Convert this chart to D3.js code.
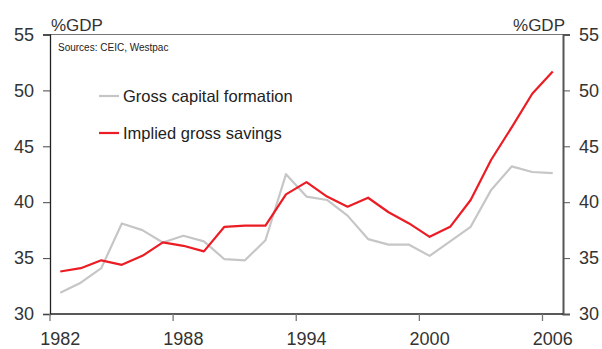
<!DOCTYPE html>
<html>
<head>
<meta charset="utf-8">
<script src="https://cdn.jsdelivr.net/npm/d3@7"></script>
<style>
  body { margin: 0; background: #fff; }
  svg { display: block; font-family: "Liberation Sans", Arial, sans-serif; }
</style>
</head>
<body>
<svg id="chart" width="602" height="349"></svg>
<script>
// Investment and savings, % of GDP
const years = d3.range(1982, 2007);
const grossCapitalFormation = [
  31.9, 32.8, 34.1, 38.1, 37.5, 36.4, 37.0, 36.5, 34.9, 34.8,
  36.6, 42.5, 40.5, 40.2, 38.8, 36.7, 36.2, 36.2, 35.2, 36.5,
  37.8, 41.1, 43.2, 42.7, 42.6
];
const impliedGrossSavings = [
  33.8, 34.1, 34.8, 34.4, 35.2, 36.4, 36.1, 35.6, 37.8, 37.9,
  37.9, 40.7, 41.8, 40.5, 39.6, 40.4, 39.1, 38.1, 36.9, 37.8,
  40.2, 43.8, 46.7, 49.7, 51.7
];
const yTicks = [30, 35, 40, 45, 50, 55];
const xTickYears = [1982, 1988, 1994, 2000, 2006];

const svg = d3.select("#chart");
const plotLeft = 50, plotRight = 563, plotTop = 34.5, plotBottom = 314;

const x = d3.scaleBand().domain(years).range([plotLeft, plotRight]).padding(0);
const xc = d => x(d) + x.bandwidth() / 2;
const y = d3.scaleLinear().domain([30, 55]).range([plotBottom, plotTop]);

// frame top
svg.append("line").attr("x1", plotLeft).attr("x2", plotRight).attr("y1", plotTop).attr("y2", plotTop)
  .attr("stroke", "#777").attr("stroke-width", 1);

// left axis
const yl = svg.append("g").attr("transform", `translate(${plotLeft},0)`)
  .call(d3.axisLeft(y).tickValues(yTicks).tickSize(7).tickPadding(9));
yl.select(".domain").attr("stroke", "#222").attr("stroke-width", 1.3);
yl.selectAll(".tick line").attr("stroke", "#444");
yl.selectAll(".tick text").attr("font-size", 18).attr("fill", "#333")
  .attr("font-family", "Liberation Sans, Arial, sans-serif");

// right axis
const yr = svg.append("g").attr("transform", `translate(${plotRight},0)`)
  .call(d3.axisRight(y).tickValues(yTicks).tickSize(7).tickPadding(9));
yr.select(".domain").attr("stroke", "#555").attr("stroke-width", 2);
yr.selectAll(".tick line").attr("stroke", "#555");
yr.selectAll(".tick text").attr("font-size", 18).attr("fill", "#333")
  .attr("font-family", "Liberation Sans, Arial, sans-serif");

// bottom axis: ticks on band edges, labels on band centres
const xb = svg.append("g").attr("transform", `translate(0,${plotBottom})`);
xb.append("line").attr("x1", plotLeft).attr("x2", plotRight).attr("stroke", "#222").attr("stroke-width", 1.3);
xb.selectAll("line.tk").data(xTickYears).join("line").attr("class", "tk")
  .attr("x1", d => x(d)).attr("x2", d => x(d)).attr("y1", 0).attr("y2", 7)
  .attr("stroke", "#777").attr("stroke-width", 1.3);
xb.selectAll("text").data(xTickYears).join("text")
  .attr("x", d => xc(d)).attr("y", 31).attr("text-anchor", "middle")
  .attr("font-size", 18).attr("fill", "#333").text(d => d);

// unit labels and source
svg.append("text").attr("x", plotLeft + 1).attr("y", 31).attr("font-size", 17).attr("fill", "#333").text("%GDP");
svg.append("text").attr("x", plotRight + 2).attr("y", 31).attr("text-anchor", "end").attr("font-size", 17).attr("fill", "#333").text("%GDP");
svg.append("text").attr("x", 58).attr("y", 51).attr("font-size", 10).attr("fill", "#222").text("Sources: CEIC, Westpac");

// lines
const line = d3.line().x((d, i) => xc(years[i])).y(d => y(d));
svg.append("path").datum(grossCapitalFormation).attr("d", line)
  .attr("fill", "none").attr("stroke", "#c6c6c6").attr("stroke-width", 2.2).attr("stroke-linejoin", "round");
svg.append("path").datum(impliedGrossSavings).attr("d", line)
  .attr("fill", "none").attr("stroke", "#ec1c24").attr("stroke-width", 2.2).attr("stroke-linejoin", "round");

// legend
const legend = [
  { label: "Gross capital formation", color: "#c6c6c6", yy: 96 },
  { label: "Implied gross savings", color: "#ec1c24", yy: 133 }
];
const lg = svg.append("g");
lg.selectAll("line").data(legend).join("line")
  .attr("x1", 99).attr("x2", 119).attr("y1", d => d.yy).attr("y2", d => d.yy)
  .attr("stroke", d => d.color).attr("stroke-width", 2.2);
lg.selectAll("text").data(legend).join("text")
  .attr("x", 123).attr("y", d => d.yy + 6).attr("font-size", 16.5).attr("fill", "#222")
  .text(d => d.label);
</script>
</body>
</html>
